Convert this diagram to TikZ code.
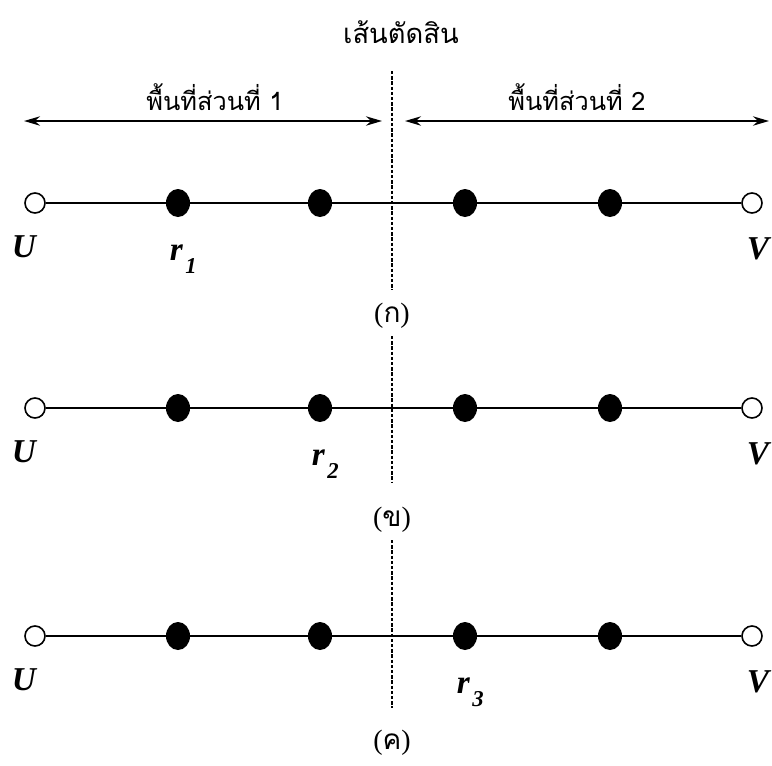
\documentclass[tikz,border=0pt]{standalone}
\usepackage{fontspec}
\setmainfont{Liberation Serif}
\newfontfamily\thaifont[Script=Thai]{Loma}
\usetikzlibrary{arrows.meta, positioning, shapes.geometric}

\begin{document}
\begin{tikzpicture}[
  x=0.75pt, y=-0.75pt,
  edge/.style={line width=1.6pt},
  cut/.style={line width=1.1pt, dash pattern=on 2.6pt off 1.3pt},
  span/.style={{Stealth[length=12pt,width=7pt]}-{Stealth[length=12pt,width=7pt]}, line width=1.5pt},
  endpt/.style={circle, draw, line width=1.2pt, fill=white, minimum size=15pt, inner sep=0pt},
  relay/.style={ellipse, fill=black, minimum width=18pt, minimum height=21pt, inner sep=0pt},
  lbl/.style={font=\fontsize{25}{28}\selectfont\bfseries\itshape},
  thai/.style={font=\thaifont\fontsize{19}{22}\selectfont},
  capt/.style={font=\fontsize{21}{23}\selectfont},
]
  \useasboundingbox (0,0) rectangle (772,765);

  %% ─── HEADER ─────────────────────────────────────────────────────────
  \node[thai, font=\thaifont\fontsize{20.5}{24}\selectfont] (title) at (401,32) {เส้นตัดสิน};
  \node[thai] (part1) at (215,97) {พื้นที่ส่วนที่ 1};
  \node[thai] (part2) at (577,97) {พื้นที่ส่วนที่ 2};

  \coordinate (l1) at (24,121);  \coordinate (l2) at (382,121);
  \coordinate (r1) at (405,121); \coordinate (r2) at (769,121);
  \draw[span] (l1) -- (l2);
  \draw[span] (r1) -- (r2);

  %% ─── ROWS (a) (b) (c) ───────────────────────────────────────────────
  \foreach \row/\y/\ct/\cb/\rk/\capy/\cap in
      {a/203/71/290/2/316/ก, b/408/336/482/3/520/ข, c/636/540/708/4/743/ค} {
    \pgfmathtruncatemacro\rn{\rk-1}

    % cut line
    \coordinate (\row top) at (392,\ct);
    \coordinate (\row bot) at (392,\cb);
    \draw[cut] (\row top) -- (\row bot);

    % path U -- ... -- V
    \node[endpt] (\row1) at (35,\y) {};
    \foreach \i/\x in {2/178,3/320,4/465,5/610}
      \node[relay] (\row\i) at (\x,\y) {};
    \node[endpt] (\row6) at (752,\y) {};
    \draw[edge] (\row1) -- (\row2) -- (\row3) -- (\row4) -- (\row5) -- (\row6);

    % labels
    \node[lbl] (\row U) at (24,\y+44) {U};
    \node[lbl] (\row V) at (758,\y+46) {V};
    \node[lbl, below=17pt of \row\rk, xshift=4pt]
      (\row r) {r\kern2pt\raisebox{-10pt}{\fontsize{17}{17}\selectfont\rn}};
    \node[capt] (\row cap) at (392,\capy) {({\thaifont\cap})};
  }
\end{tikzpicture}
\end{document}
